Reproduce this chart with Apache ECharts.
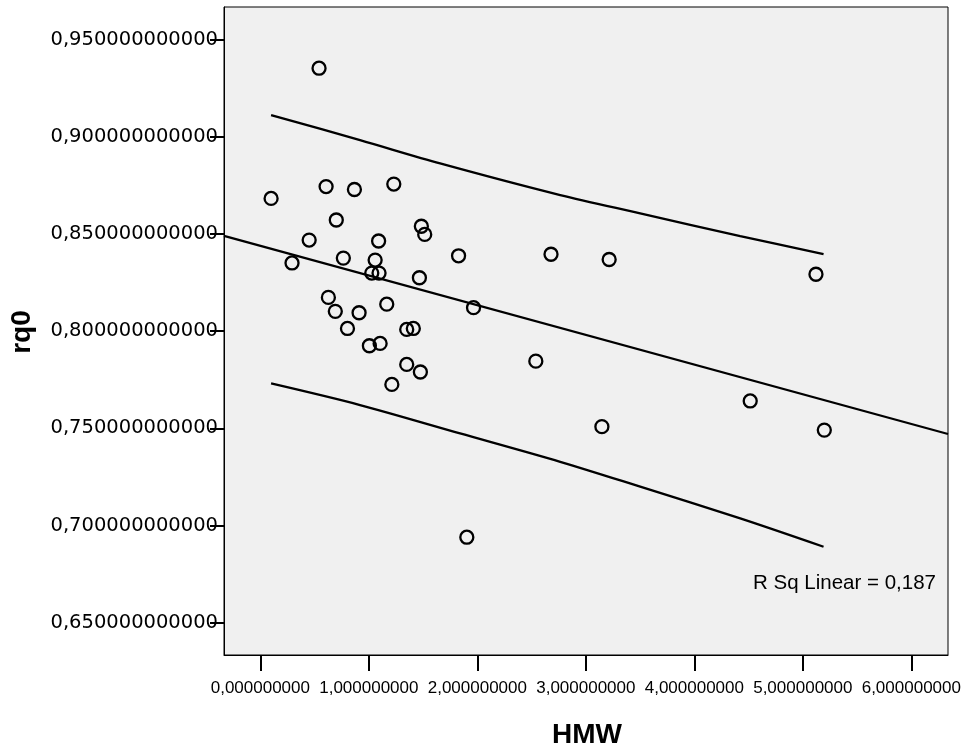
<!DOCTYPE html>
<html>
<head>
<meta charset="utf-8">
<script src="https://cdn.jsdelivr.net/npm/echarts@6/dist/echarts.min.js"></script>
<style>html,body{margin:0;padding:0;background:#fff;}#c{width:968px;height:751px;}</style>
</head>
<body>
<div id="c"></div>
<script>
// Scatter data (HMW, rq0)
const hmw = [0.541, 0.099, 0.606, 0.867, 1.230, 0.700, 1.484, 1.515, 0.450, 1.090,
             0.292, 0.765, 1.058, 1.027, 1.094, 1.827, 2.679, 3.215, 5.121, 1.466,
             0.627, 1.165, 0.691, 0.910, 1.965, 0.803, 1.349, 1.410, 1.005, 1.104,
             1.349, 1.475, 1.212, 2.539, 3.148, 4.515, 5.198, 1.903];
const rq0 = [0.9353, 0.8683, 0.8744, 0.8729, 0.8757, 0.8572, 0.8540, 0.8498, 0.8469, 0.8464,
             0.8351, 0.8376, 0.8366, 0.8299, 0.8299, 0.8388, 0.8396, 0.8369, 0.8293, 0.8275,
             0.8174, 0.8139, 0.8102, 0.8095, 0.8121, 0.8014, 0.8009, 0.8014, 0.7925, 0.7937,
             0.7829, 0.7790, 0.7726, 0.7846, 0.7509, 0.7641, 0.7491, 0.6940];

// Fit line
const fitX = [-0.335, 6.338];
const fitY = [0.8490, 0.7471];

// Prediction interval curves
const bandX = [0.099, 0.919, 1.657, 2.764, 3.501, 4.423, 5.191];
const upperY = [0.9112, 0.8983, 0.8863, 0.8700, 0.8606, 0.8489, 0.8397];
const lowerBandX = [0.099, 0.919, 1.841, 2.764, 3.501, 4.423, 5.191];
const lowerY = [0.7731, 0.7620, 0.7474, 0.7328, 0.7200, 0.7037, 0.6891];

// Axis ticks and labels
const xTicks = [0, 1, 2, 3, 4, 5, 6];
const xTickLabels = ['0,000000000', '1,000000000', '2,000000000', '3,000000000',
                     '4,000000000', '5,000000000', '6,000000000'];
const yTicks = [0.65, 0.70, 0.75, 0.80, 0.85, 0.90, 0.95];
const yTickLabels = ['0,650000000000', '0,700000000000', '0,750000000000', '0,800000000000',
                     '0,850000000000', '0,900000000000', '0,950000000000'];

const xTitle = 'HMW';
const yTitle = 'rq0';
const rsqText = 'R Sq Linear = 0,187';

function zip(a, b) { return a.map((v, i) => [v, b[i]]); }
function labelFor(ticks, labels, v) {
  for (let i = 0; i < ticks.length; i++) if (Math.abs(ticks[i] - v) < 1e-6) return labels[i];
  return '';
}

const chart = echarts.init(document.getElementById('c'), null, {renderer: 'canvas'});
chart.setOption({
  animation: false,
  backgroundColor: '#ffffff',
  grid: {
    left: 224, top: 7, width: 724, height: 648,
    show: true, backgroundColor: '#f0f0f0', borderColor: '#000', borderWidth: 1
  },
  xAxis: {
    type: 'value', min: -0.335, max: 6.338,
    axisLine: {show: true, onZero: false, lineStyle: {color: '#000', width: 1}},
    axisTick: {show: true, length: 16, customValues: xTicks, lineStyle: {color: '#000', width: 2}},
    axisLabel: {
      customValues: xTicks, margin: 25, color: '#000',
      fontFamily: 'Liberation Sans', fontSize: 17,
      formatter: v => labelFor(xTicks, xTickLabels, v)
    },
    splitLine: {show: false}
  },
  yAxis: {
    type: 'value', min: 0.6334, max: 0.9668,
    axisLine: {show: true, onZero: false, lineStyle: {color: '#000', width: 1}},
    axisTick: {show: true, length: 14, customValues: yTicks, lineStyle: {color: '#000', width: 2}},
    axisLabel: {
      customValues: yTicks, margin: 6, color: '#000',
      fontFamily: 'DejaVu Sans', fontSize: 19.5,
      formatter: v => labelFor(yTicks, yTickLabels, v)
    },
    splitLine: {show: false}
  },
  series: [
    {
      type: 'line', data: zip(fitX, fitY), symbol: 'none', silent: true,
      lineStyle: {color: '#000', width: 2.3}, clip: true
    },
    {
      type: 'line', data: zip(bandX, upperY), symbol: 'none', smooth: 0.3, silent: true,
      lineStyle: {color: '#000', width: 2.3}
    },
    {
      type: 'line', data: zip(lowerBandX, lowerY), symbol: 'none', smooth: 0.3, silent: true,
      lineStyle: {color: '#000', width: 2.3}
    },
    {
      type: 'scatter', data: zip(hmw, rq0), symbol: 'circle', symbolSize: 13,
      itemStyle: {color: 'rgba(0,0,0,0)', borderColor: '#000', borderWidth: 2.3, opacity: 1}
    }
  ],
  graphic: [
    {
      type: 'text', x: 22, y: 332, rotation: Math.PI / 2,
      style: {text: yTitle, fontFamily: 'Liberation Sans', fontWeight: 'bold', fontSize: 28,
              fill: '#000', align: 'center', verticalAlign: 'middle'}
    },
    {
      type: 'text', x: 587, y: 735,
      style: {text: xTitle, fontFamily: 'Liberation Sans', fontWeight: 'bold', fontSize: 28,
              fill: '#000', align: 'center', verticalAlign: 'middle'}
    },
    {
      type: 'text', x: 936, y: 583,
      style: {text: rsqText, fontFamily: 'Liberation Sans', fontSize: 20.5,
              fill: '#000', align: 'right', verticalAlign: 'middle'}
    }
  ]
});
</script>
</body>
</html>
